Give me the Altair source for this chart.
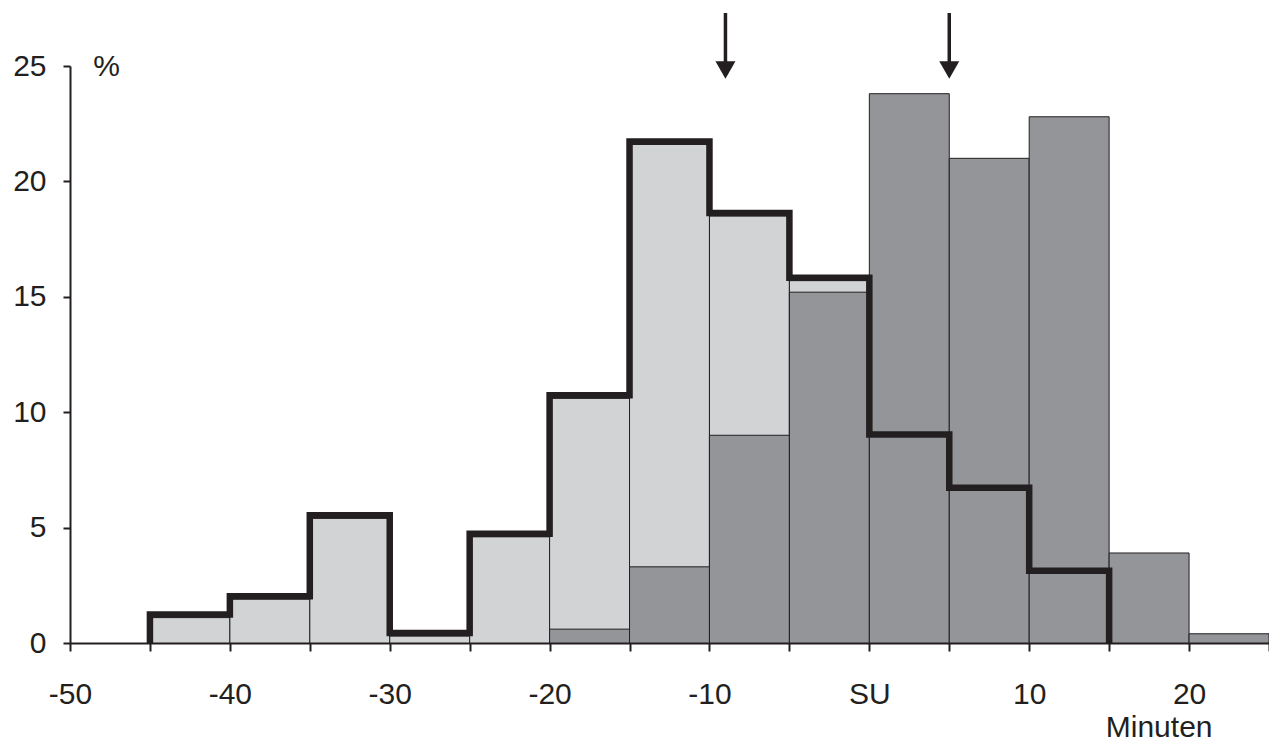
import altair as alt
import pandas as pd

# Bin edges (minutes relative to sunrise "SU")
light_start = [-45, -40, -35, -30, -25, -20, -15, -10, -5, 0, 5, 10]
light_values = [1.1, 1.9, 5.4, 0.3, 4.6, 10.6, 21.6, 18.5, 15.7, 8.9, 6.6, 3.0]

dark_start = [-20, -15, -10, -5, 0, 5, 10, 15, 20]
dark_values = [0.6, 3.3, 9.0, 15.2, 23.8, 21.0, 22.8, 3.9, 0.4]

bin_width = 5
arrow_x = [-9, 5]

x_ticks = list(range(-50, 30, 5))
y_ticks = [0, 5, 10, 15, 20, 25]

INK = "#231f20"
LIGHT = "#d1d3d4"
DARK = "#939598"
FONT = "Liberation Sans"
FS = 30

light_df = pd.DataFrame({"start": light_start, "value": light_values})
light_df["end"] = light_df["start"] + bin_width
dark_df = pd.DataFrame({"start": dark_start, "value": dark_values})
dark_df["end"] = dark_df["start"] + bin_width

# step outline of the light series
pts = [(light_start[0], 0.0)]
for s, v in zip(light_start, light_values):
    pts.append((s, v))
    pts.append((s + bin_width, v))
pts.append((light_start[-1] + bin_width, 0.0))
step_df = pd.DataFrame({"x": [p[0] for p in pts], "y": [p[1] for p in pts],
                        "order": list(range(len(pts)))})
arrow_df = pd.DataFrame({"x": arrow_x})

xscale = alt.Scale(domain=[-50, 25], nice=False, zero=False)
yscale = alt.Scale(domain=[0, 25], nice=False, zero=True)

x_axis = alt.Axis(
    values=x_ticks,
    labelExpr="datum.value == 0 ? 'SU' : (datum.value % 10 == 0 ? datum.value : '')",
    grid=False, domainColor=INK, domainWidth=2, tickColor=INK, tickWidth=2,
    tickSize=8, labelFontSize=FS, labelColor=INK, labelFont=FONT,
    labelPadding=28, labelFlush=False, labelOverlap=False,
    title="Minuten", titleFont=FONT, titleFontSize=FS, titleFontWeight="normal",
    titleColor=INK, titleAnchor="start", titleAlign="right", titleBaseline="alphabetic",
    titleX=1142, titleY=93,
)
y_axis = alt.Axis(
    values=y_ticks, grid=False, domainColor=INK, domainWidth=2, tickColor=INK,
    tickWidth=2, tickSize=7, labelFontSize=FS, labelColor=INK, labelFont=FONT,
    labelPadding=17, labelFlush=False,
    title="%", titleAngle=0, titleFont=FONT, titleFontSize=FS, titleFontWeight="normal",
    titleColor=INK, titleAlign="center", titleBaseline="middle", titleX=36, titleY=0,
)

light_bars = alt.Chart(light_df).mark_bar(color=LIGHT, stroke=INK, strokeWidth=1).encode(
    x=alt.X("start:Q", scale=xscale, axis=x_axis),
    x2="end:Q",
    y=alt.Y("value:Q", scale=yscale, axis=y_axis),
    y2=alt.datum(0),
)
dark_bars = alt.Chart(dark_df).mark_bar(color=DARK, stroke=INK, strokeWidth=1).encode(
    x=alt.X("start:Q", scale=xscale),
    x2="end:Q",
    y=alt.Y("value:Q", scale=yscale),
    y2=alt.datum(0),
)
step = alt.Chart(step_df).mark_line(
    color=INK, strokeWidth=6.5, strokeJoin="miter", strokeCap="square", yOffset=-3
).encode(
    x=alt.X("x:Q", scale=xscale),
    y=alt.Y("y:Q", scale=yscale),
    order="order:Q",
)
shafts = alt.Chart(arrow_df).mark_rule(color=INK, strokeWidth=3.5).encode(
    x=alt.X("x:Q", scale=xscale),
    y=alt.value(-53),
    y2=alt.value(-3),
)
heads = alt.Chart(arrow_df).mark_point(
    shape="triangle-down", filled=True, color=INK, size=400, opacity=1
).encode(
    x=alt.X("x:Q", scale=xscale),
    y=alt.value(4),
)

chart = alt.layer(light_bars, dark_bars, step, shafts, heads).properties(
    width=1199, height=577,
    background="white",
    autosize=alt.AutoSizeParams(type="none"),
    padding={"left": 62, "top": 58, "right": 0, "bottom": 101},
).configure_view(
    stroke="transparent", strokeWidth=0
).configure_axis(grid=False)

chart.save("out.html", embed_options={"renderer": "svg", "actions": False})
